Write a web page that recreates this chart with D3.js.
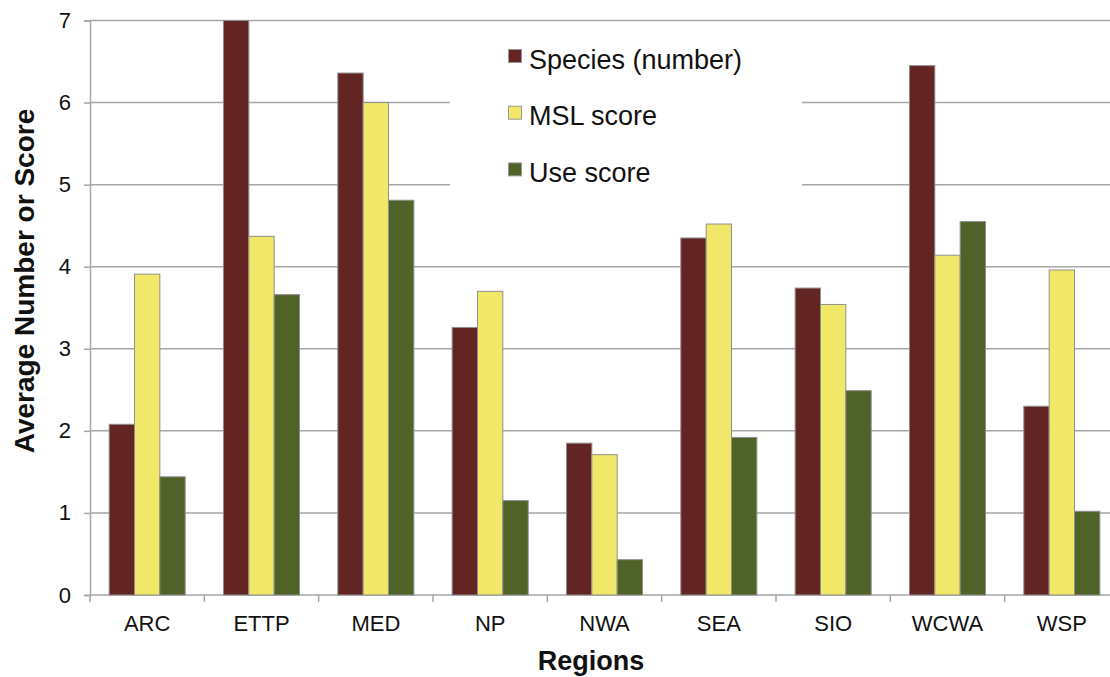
<!DOCTYPE html>
<html>
<head>
<meta charset="utf-8">
<script src="https://cdn.jsdelivr.net/npm/d3@7"></script>
<style>
  html, body { margin: 0; padding: 0; background: #fff; }
  svg { display: block; font-family: "Liberation Sans", Arial, Helvetica, sans-serif; }
</style>
</head>
<body>
<svg id="chart" width="1110" height="677"></svg>
<script>
const categories = ["ARC", "ETTP", "MED", "NP", "NWA", "SEA", "SIO", "WCWA", "WSP"];
const seriesNames = ["Species (number)", "MSL score", "Use score"];
const species = [2.08, 7.0, 6.36, 3.26, 1.85, 4.35, 3.74, 6.45, 2.30];
const mslScore = [3.91, 4.37, 6.00, 3.70, 1.71, 4.52, 3.54, 4.14, 3.96];
const useScore = [1.44, 3.66, 4.81, 1.15, 0.43, 1.92, 2.49, 4.55, 1.02];
const yTicks = [0, 1, 2, 3, 4, 5, 6, 7];
const colors = ["#632523", "#f1e86a", "#4f6228"];

const seriesValues = [species, mslScore, useScore];
const data = categories.map((c, i) => ({
  cat: c,
  vals: seriesNames.map((s, j) => ({ series: s, idx: j, value: seriesValues[j][i] }))
}));

const svg = d3.select("#chart");
const mLeft = 90, mRight = 1119, mTop = 20.5, mBottom = 595;

const x0 = d3.scaleBand().domain(categories).range([mLeft, mRight]).padding(0);
const bw = x0.bandwidth();
const x1 = d3.scaleBand().domain(seriesNames).range([0.1675 * bw, 0.8325 * bw]).padding(0);
const y = d3.scaleLinear().domain([0, 7]).range([mBottom, mTop]);

const gridColor = "#a6a6a6";

// gridlines
svg.append("g")
  .selectAll("line")
  .data(yTicks.filter(d => d > 0))
  .join("line")
  .attr("x1", mLeft).attr("x2", 1110)
  .attr("y1", d => y(d)).attr("y2", d => y(d))
  .attr("stroke", gridColor).attr("stroke-width", 1.5);

// legend background (covers gridlines)
svg.append("rect")
  .attr("x", 450).attr("y", 30).attr("width", 352).attr("height", 180)
  .attr("fill", "#fff");

// y axis
const yAxis = d3.axisLeft(y).tickValues(yTicks).tickSize(6).tickPadding(13).tickFormat(d3.format("d"));
const gy = svg.append("g").attr("transform", `translate(${mLeft},0)`).call(yAxis);
gy.select(".domain").attr("stroke", gridColor).attr("stroke-width", 1.5);
gy.selectAll(".tick line").attr("stroke", gridColor).attr("stroke-width", 1.5);
gy.selectAll(".tick text").attr("font-size", 22).attr("fill", "#111").attr("font-family", null);

// x axis
const xAxis = d3.axisBottom(x0).tickSize(0).tickPadding(20);
const gx = svg.append("g").attr("transform", `translate(0,${mBottom})`).call(xAxis);
gx.select(".domain").remove();
gx.selectAll(".tick text").attr("font-size", 22).attr("fill", "#111").attr("font-family", null);
gx.append("line").attr("x1", mLeft).attr("x2", 1110).attr("y1", 0).attr("y2", 0)
  .attr("stroke", gridColor).attr("stroke-width", 1.5);
gx.selectAll(".bt")
  .data(categories)
  .join("line")
  .attr("class", "bt")
  .attr("x1", d => x0(d)).attr("x2", d => x0(d))
  .attr("y1", 0).attr("y2", 7)
  .attr("stroke", gridColor).attr("stroke-width", 1.5);

// bars
const groups = svg.append("g")
  .selectAll("g")
  .data(data)
  .join("g")
  .attr("transform", d => `translate(${x0(d.cat)},0)`);

groups.selectAll("rect")
  .data(d => d.vals)
  .join("rect")
  .attr("x", d => x1(d.series))
  .attr("width", x1.bandwidth())
  .attr("y", d => y(d.value))
  .attr("height", d => y(0) - y(d.value))
  .attr("fill", d => colors[d.idx])
  .attr("stroke", "#8f8f8f")
  .attr("stroke-width", 1);

// legend
const legend = svg.append("g");
const legItems = legend.selectAll("g")
  .data(seriesNames)
  .join("g")
  .attr("transform", (d, i) => `translate(508,${49 + i * 56.7})`);
legItems.append("rect")
  .attr("x", 0.5).attr("y", 0.5).attr("width", 13).attr("height", 13)
  .attr("fill", (d, i) => colors[i])
  .attr("stroke", "#9a9a9a").attr("stroke-width", 1);
legItems.append("text")
  .attr("x", 21).attr("y", 19.5)
  .attr("font-size", 27)
  .attr("fill", "#111")
  .text(d => d);

// axis titles
svg.append("text")
  .attr("transform", `translate(34,281) rotate(-90)`)
  .attr("text-anchor", "middle")
  .attr("font-size", 28)
  .attr("font-weight", "bold")
  .attr("fill", "#111")
  .text("Average Number or Score");

svg.append("text")
  .attr("x", 591).attr("y", 670)
  .attr("text-anchor", "middle")
  .attr("font-size", 27)
  .attr("font-weight", "bold")
  .attr("fill", "#111")
  .text("Regions");
</script>
</body>
</html>
